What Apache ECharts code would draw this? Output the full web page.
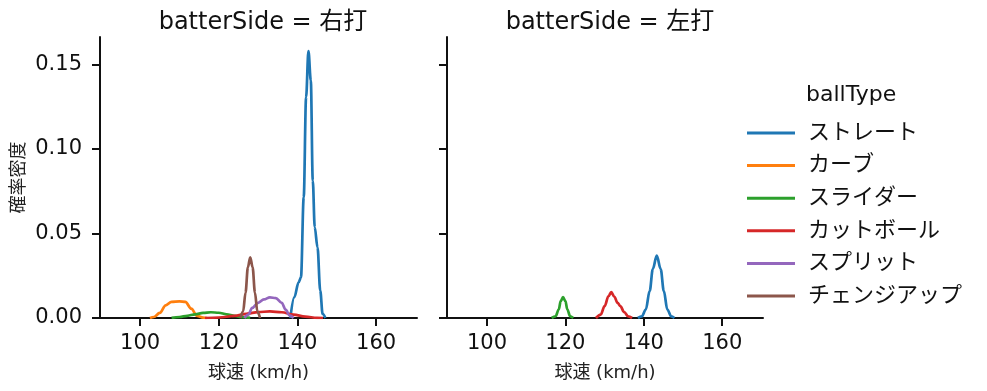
<!DOCTYPE html>
<html>
<head>
<meta charset="utf-8">
<script src="https://cdn.jsdelivr.net/npm/echarts@6/dist/echarts.min.js"></script>
<style>html,body{margin:0;padding:0;background:#fff}#c{width:987px;height:391px}</style>
</head>
<body>
<div id="c"></div>
<script>
// ---- Data ----
const ballTypes = ['ストレート', 'カーブ', 'スライダー', 'カットボール', 'スプリット', 'チェンジアップ'];
const colors = ['#1f77b4', '#ff7f0e', '#2ca02c', '#d62728', '#9467bd', '#8c564b'];
const panelTitles = ['batterSide = 右打', 'batterSide = 左打'];
const xTicks = [100, 120, 140, 160];
const yTicks = [0.00, 0.05, 0.10, 0.15];

// Left panel (右打)
const rightStraight = [[138.2,0],[139.2,0.0122],[140.3,0.0211],[140.9,0.024],[141.6,0.0715],[142.2,0.1307],[142.8,0.158],[143.4,0.1406],[143.9,0.0813],[144.4,0.0537],[145.1,0.0418],[145.8,0.0162],[146.4,0.0024],[147.1,0]];
const rightCurve = [[102.5,0],[103.5,0.0006],[105,0.003],[106.5,0.0075],[108,0.0096],[110,0.0098],[111.5,0.0096],[113,0.0055],[114.5,0.0012],[116,0.0002],[117,0]];
const rightSlider = [[108,0.0001],[110,0.0006],[112,0.0013],[114,0.0022],[116,0.003],[118,0.0034],[120,0.0031],[122,0.0022],[124,0.0012],[126,0.0005],[128,0.0001]];
const rightCutter = [[116.5,0],[120,0.0003],[124,0.0012],[127,0.0025],[130,0.0035],[133,0.0039],[136,0.0034],[139,0.002],[142,0.0008],[145,0.0001],[146.5,0]];
const rightSplit = [[126.5,0],[127.5,0.002],[128.5,0.006],[130,0.009],[131.5,0.011],[133,0.0122],[134.5,0.0118],[136,0.009],[137,0.005],[138,0.0015],[139,0]];
const rightChange = [[125.5,0],[126.2,0.004],[126.8,0.015],[127.4,0.03],[128,0.0359],[128.6,0.03],[129.2,0.015],[129.8,0.004],[130.5,0]];

// Right panel (左打)
const leftStraight = [[138.5,0],[139.5,0.001],[140.5,0.005],[141.5,0.016],[142.3,0.029],[143.3,0.037],[144.3,0.029],[145.1,0.016],[146,0.005],[147,0.001],[147.8,0]];
const leftSlider = [[116.5,0],[117.5,0.001],[118.3,0.005],[118.8,0.010],[119.4,0.0123],[120,0.010],[120.5,0.005],[121.2,0.001],[122,0]];
const leftCutter = [[127.8,0],[129,0.002],[130,0.007],[131,0.013],[131.7,0.0153],[132.5,0.0125],[133.3,0.009],[134,0.007],[135,0.0035],[136,0.001],[137,0]];

const FONT = '"DejaVu Sans", "Noto Sans CJK JP", sans-serif';
const chart = echarts.init(document.getElementById('c'), null, {renderer: 'canvas'});

function xAx(gi) {
  return {
    type: 'value', gridIndex: gi, min: 89.8, max: 170.4,
    name: '球速 (km/h)', nameLocation: 'middle', nameGap: 46,
    nameTextStyle: {fontFamily: FONT, fontSize: 18, color: '#222'},
    axisLine: {show: true, lineStyle: {color: '#111', width: 2}},
    axisTick: {show: true, length: 8, lineStyle: {color: '#111', width: 2}, customValues: xTicks},
    axisLabel: {fontFamily: FONT, fontSize: 21, color: '#111', margin: 15, customValues: xTicks,
      showMinLabel: true, showMaxLabel: true},
    splitLine: {show: false}
  };
}
function yAx(gi, showLabels) {
  return {
    type: 'value', gridIndex: gi, min: 0, max: 0.1663,
    name: showLabels ? '確率密度' : '', nameLocation: 'middle', nameGap: 72,
    nameTextStyle: {fontFamily: FONT, fontSize: 18, color: '#222'},
    axisLine: {show: true, lineStyle: {color: '#111', width: 2}},
    axisTick: {show: true, length: 8, lineStyle: {color: '#111', width: 2}, customValues: yTicks},
    axisLabel: {show: showLabels, fontFamily: FONT, fontSize: 21, color: '#111', margin: 18,
      customValues: yTicks, formatter: v => v.toFixed(2)},
    splitLine: {show: false}
  };
}
function ser(name, data, xi, ci) {
  return {
    name: name, type: 'line', xAxisIndex: xi, yAxisIndex: xi, data: data,
    smooth: 0.35, smoothMonotone: 'x', showSymbol: false, symbol: 'none',
    lineStyle: {width: 2.7, color: colors[ci]}, itemStyle: {color: colors[ci]},
    emphasis: {disabled: true}, animation: false, z: 2
  };
}

const series = [
  ser(ballTypes[0], rightStraight, 0, 0),
  ser(ballTypes[1], rightCurve, 0, 1),
  ser(ballTypes[2], rightSlider, 0, 2),
  ser(ballTypes[3], rightCutter, 0, 3),
  ser(ballTypes[4], rightSplit, 0, 4),
  ser(ballTypes[5], rightChange, 0, 5),
  ser(ballTypes[0], leftStraight, 1, 0),
  ser(ballTypes[2], leftSlider, 1, 2),
  ser(ballTypes[3], leftCutter, 1, 3)
];

chart.setOption({
  animation: false,
  backgroundColor: '#fff',
  title: [
    {text: panelTitles[0], left: 258, top: 6, textAlign: 'center',
      textStyle: {fontFamily: FONT, fontSize: 24, fontWeight: 'normal', color: '#111'}},
    {text: panelTitles[1], left: 605, top: 6, textAlign: 'center',
      textStyle: {fontFamily: FONT, fontSize: 24, fontWeight: 'normal', color: '#111'}}
  ],
  grid: [
    {left: 100, width: 317, top: 37, bottom: 73, containLabel: false},
    {left: 447, width: 316, top: 37, bottom: 73, containLabel: false}
  ],
  xAxis: [xAx(0), xAx(1)],
  yAxis: [yAx(0, true), yAx(1, false)],
  legend: {
    data: ballTypes, orient: 'vertical', left: 742, top: 116,
    icon: 'rect', itemWidth: 48, itemHeight: 3, itemGap: 8.6,
    textStyle: {fontFamily: FONT, fontSize: 22, color: '#111', lineHeight: 24, padding: [0, 0, 0, 8]},
    selectedMode: false
  },
  graphic: [
    {type: 'text', left: 806, top: 84, style: {text: 'ballType', font: '22px ' + FONT, fill: '#111'}}
  ],
  series: series
});
</script>
</body>
</html>
